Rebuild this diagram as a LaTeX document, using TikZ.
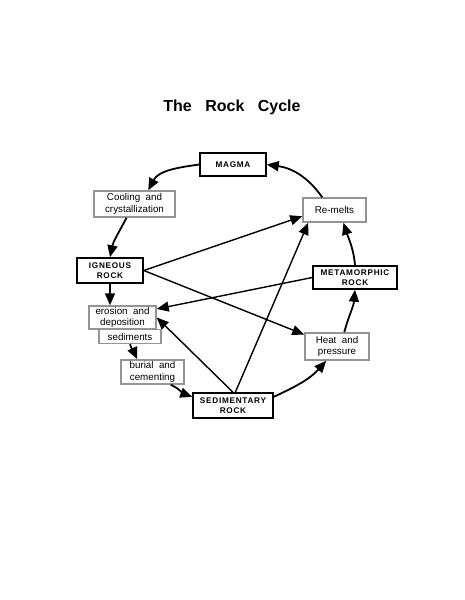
\documentclass[tikz,border=0pt]{standalone}
\usepackage{fontspec}
\setmainfont{Liberation Sans}
\newfontfamily\widesp[WordSpace=2]{Liberation Sans}
\usetikzlibrary{arrows.meta}
\begin{document}
\begin{tikzpicture}[x=1pt,y=-1pt,
 blackbox/.style={draw=black,line width=1.5pt,fill=white,inner sep=0pt,align=center,
   font=\fontsize{8.2}{10}\selectfont\bfseries\addfontfeature{LetterSpace=9}},
 graybox/.style={draw=black!42,line width=1.5pt,fill=white,inner sep=0pt,align=center,
   font=\widesp\fontsize{9.8}{11.3}\selectfont},
 cyc/.style={line width=1.8pt,-{Triangle[length=12pt,width=10pt]}},
 link/.style={line width=1.4pt,-{Triangle[length=12pt,width=10pt]}},
]
\useasboundingbox (0,0) rectangle (464,600);
\node (title) at (232,107) {\fontsize{16}{19}\selectfont\bfseries The\hspace{9pt} Rock\hspace{9pt} Cycle};

\node[blackbox,minimum width=66pt,minimum height=23pt] (magma) at (233,164.5) {MAGMA};
\node[graybox,minimum width=81pt,minimum height=26pt] (cool) at (134.5,204) {Cooling and\\crystallization};
\node[blackbox,minimum width=66pt,minimum height=25pt] (ign) at (110,270.5) {IGNEOUS\\ROCK};
\node[graybox,minimum width=63pt,minimum height=24pt] (remelts) at (334.5,210) {Re-melts};
\node[blackbox,minimum width=84pt,minimum height=23pt] (meta) at (355,277.5) {METAMORPHIC\\ROCK};
\node[graybox,minimum width=64pt,minimum height=27pt] (heat) at (337,346.5) {Heat and\\pressure};
\node[blackbox,minimum width=80pt,minimum height=25pt] (sed) at (233,405.5) {SEDIMENTARY\\ROCK};
\node[graybox,minimum width=62pt,minimum height=14pt] (sedi) at (130,336.5) {sediments};
\node[graybox,minimum width=67pt,minimum height=23pt] (eros) at (122.5,317.5) {erosion and\\deposition};
\node[graybox,minimum width=63pt,minimum height=24pt] (bur) at (152.5,372) {burial and\\cementing};

% cycle arrows
\draw[cyc] (magma.west) to[out=188,in=62] (cool.45);
\draw[cyc] (cool.240) to[out=-118,in=78] (ign.north);
\draw[cyc] (ign.south) -- (ign.south |- eros.north);
\draw[cyc] (sedi.south) to[out=-70,in=115] (bur.140);
\draw[cyc] (bur.-35) to[out=-25,in=160] (sed.168);
\draw[cyc] (sed.12) to[out=25,in=228] (heat.233);
\draw[cyc] (heat.63) to[out=75,in=265] (meta.south);
\draw[cyc] (meta.north) to[out=95,in=-72] (remelts.-55);
\draw[cyc] (remelts.134) to[out=125,in=-8] (magma.east);

% cross links
\draw[link] (ign.east) -- (remelts.191);
\draw[link] (ign.east) -- (heat.160);
\draw[link] (meta.west) -- (eros.14);
\draw[link] (sed.north) -- (eros.east);
\draw[link] (sed.80) -- ([xshift=6pt]remelts.south west);
\end{tikzpicture}
\end{document}
